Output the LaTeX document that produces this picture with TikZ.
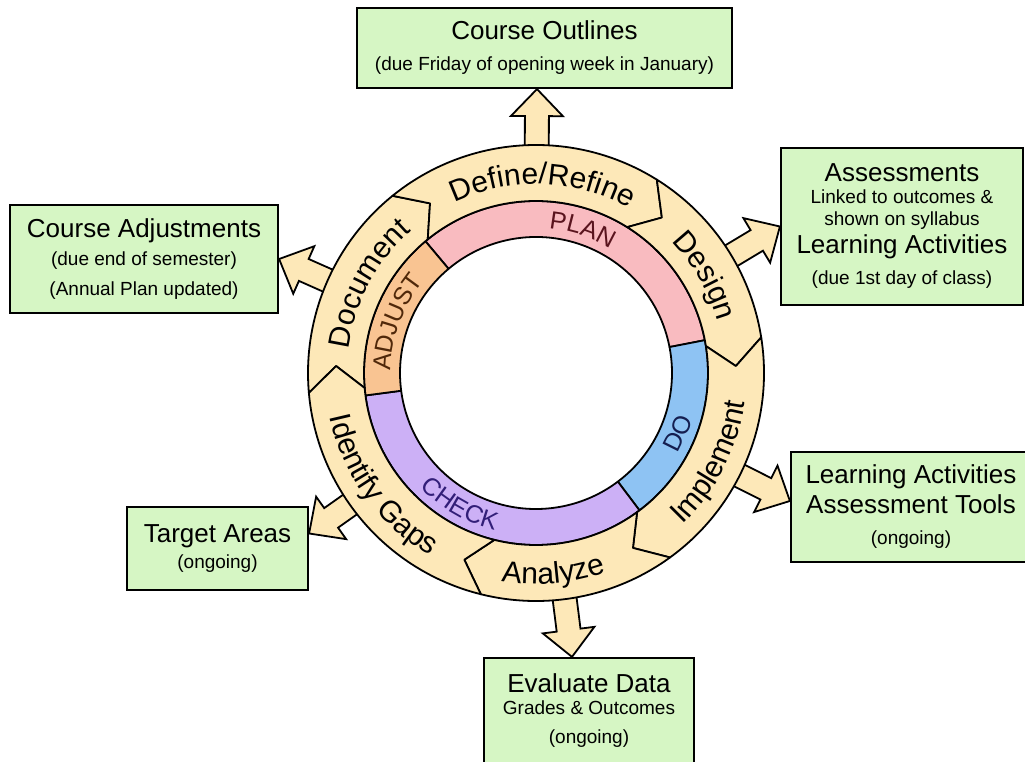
\documentclass[tikz,border=0pt]{standalone}
\usepackage{fontspec}
\setmainfont{Liberation Sans}
\usetikzlibrary{calc,decorations.text}

\definecolor{ringbeige}{RGB}{253,232,184}
\definecolor{planpink}{RGB}{249,187,192}
\definecolor{adjorange}{RGB}{249,196,146}
\definecolor{doblue}{RGB}{142,195,243}
\definecolor{checkviolet}{RGB}{204,176,246}
\definecolor{boxgreen}{RGB}{214,246,196}
\definecolor{plantext}{RGB}{90,20,30}
\definecolor{adjtext}{RGB}{80,40,10}
\definecolor{dotext}{RGB}{20,30,80}
\definecolor{checktext}{RGB}{50,30,120}

\newcommand{\ringfont}{\fontsize{30}{36}\selectfont}
\newcommand{\phasefont}{\fontsize{25}{30}\selectfont}
\newcommand{\boxtitle}{\fontsize{26}{30}\selectfont}
\newcommand{\boxsub}{\fontsize{19}{30}\selectfont}

% outlined block arrow from #1 to #2
\newcommand{\blockarrow}[2]{%
  \coordinate (bh) at ($(#2)!27pt!(#1)$);
  \filldraw[arrowbody] ($(#1)!12pt!90:(#2)$) -- ($(bh)!12pt!-90:(#1)$)
    -- ($(bh)!26pt!-90:(#1)$) -- (#2) -- ($(bh)!26pt!90:(#1)$)
    -- ($(bh)!12pt!90:(#1)$) -- ($(#1)!12pt!-90:(#2)$) -- cycle;}

\tikzset{
  box/.style={draw, line width=2.2pt, fill=boxgreen, align=center, inner sep=2pt, font=\boxsub},
  ringseg/.style={draw, line width=1.8pt, fill=ringbeige, line join=round},
  phaseseg/.style={draw, line width=1.8pt, line join=round},
  arrowbody/.style={draw, line width=1.8pt, fill=ringbeige},
  ringtext/.style={decorate, decoration={text along path, text align=center, text={|\ringfont|#1}}},
}

\begin{document}
\begin{tikzpicture}[x=1pt, y=1pt]
    \fill[white] (0,0) rectangle (1025,761);
    \useasboundingbox (0,0) rectangle (1025,761);

    \node[circle, minimum size=456pt, inner sep=0pt] (hub) at (536,388) {};

    % boxes
    \node[box, minimum width=375pt, minimum height=80pt] (outl) at (544.5,713)
        {{\boxtitle Course Outlines}\\[1pt] (due Friday of opening week in January)};
    \node[box, minimum width=268pt, minimum height=108pt] (adj) at (144,502)
        {{\boxtitle Course Adjustments}\\[-2pt] (due end of semester)\\ (Annual Plan updated)};
    \node[box, minimum width=242pt, minimum height=157pt] (asm) at (902,534.5)
        {{\boxtitle Assessments}\\[-8pt] Linked to outcomes \&\\[-8pt] shown on syllabus\\[-2pt]
         {\boxtitle Learning Activities}\\[1pt] (due 1st day of class)};
    \node[box, minimum width=240pt, minimum height=110pt] (lat) at (911,254)
        {{\boxtitle Learning Activities}\\ {\boxtitle Assessment Tools}\\[1pt] (ongoing)};
    \node[box, minimum width=181pt, minimum height=83pt] (ta) at (217.5,212.5)
        {{\boxtitle Target Areas}\\[-4pt] (ongoing)};
    \node[box, minimum width=210pt, minimum height=106pt] (ed) at (589,50)
        {{\boxtitle Evaluate Data}\\[-8pt] Grades \& Outcomes\\[-1pt] (ongoing)};

    % arrows out of the ring
    \coordinate (outl-tip) at ([xshift=-7.5pt]outl.south);
    \coordinate (adj-tip) at (adj.east);
    \coordinate (asm-tip) at (asm.west);
    \coordinate (lat-tip) at ([yshift=6pt]lat.west);
    \coordinate (ta-tip) at ([yshift=15pt]ta.east);
    \coordinate (ed-tip) at ([xshift=-17pt]ed.north);
    \foreach \n in {outl, adj, asm, lat, ta, ed} {
        \coordinate (\n-base) at ($(hub.center)!205pt!(\n-tip)$);
        \blockarrow{\n-base}{\n-tip}
    }

    \begin{scope}[shift={(hub.center)}]
        % inner phase ring
        \foreach \a/\b/\col in {130/11/planpink, 11/-53/doblue, -53/-172.5/checkviolet, 187.5/130/adjorange}
            \filldraw[phaseseg, fill=\col] (\a:172) arc[start angle=\a, end angle=\b, radius=172pt]
                -- (\b:136) arc[start angle=\b, end angle=\a, radius=136pt] -- cycle;

        % outer ring of chevrons
        \foreach \a/\b in {185/129, 129/58, 58/9, 9/-54, -54/-104, 256/185}
            \filldraw[ringseg] (\a:228) arc[start angle=\a, end angle=\b, radius=228pt]
                -- (\b-7:200) -- (\b:172) arc[start angle=\b, end angle=\a, radius=172pt]
                -- (\a-7:200) -- cycle;

        \path[ringtext=Define/Refine] (128:189) arc[start angle=128, end angle=48, radius=189pt];
        \path[ringtext=Design] (70:189) arc[start angle=70, end angle=-10, radius=189pt];
        \path[ringtext=Document] (192:189) arc[start angle=192, end angle=112, radius=189pt];
        \path[ringtext=Implement] (-67:211) arc[start angle=-67, end angle=13, radius=211pt];
        \path[ringtext=Analyze] (-125:211) arc[start angle=-125, end angle=-45, radius=211pt];
        \path[ringtext={Identify Gaps}] (171:211) arc[start angle=171, end angle=261, radius=211pt];

        \path[decorate, decoration={text along path, text align=center, text={|\phasefont\color{plantext}|PLAN}}]
            (112:145) arc[start angle=112, end angle=32, radius=145pt];
        \path[decorate, decoration={text along path, text align=center, text={|\phasefont\color{adjtext}|ADJUST}}]
            (200:145) arc[start angle=200, end angle=120, radius=145pt];
        \path[decorate, decoration={text along path, text align=center, text={|\phasefont\color{dotext}|DO}}]
            (-63:163) arc[start angle=-63, end angle=17, radius=163pt];
        \path[decorate, decoration={text along path, text align=center, text={|\phasefont\color{checktext}|CHECK}}]
            (200:163) arc[start angle=200, end angle=280, radius=163pt];
    \end{scope}
\end{tikzpicture}
\end{document}
